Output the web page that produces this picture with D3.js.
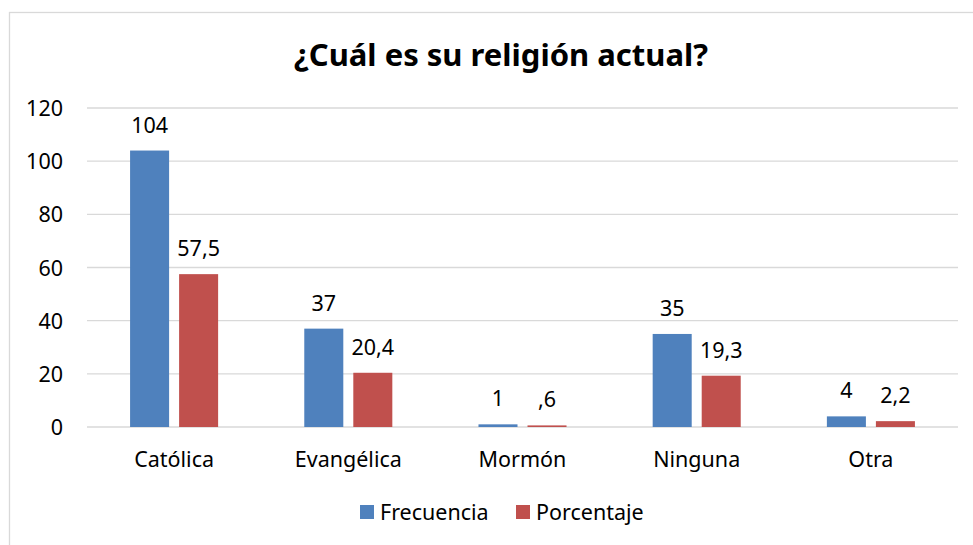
<!DOCTYPE html>
<html>
<head>
<meta charset="utf-8">
<script src="https://cdn.jsdelivr.net/npm/d3@7"></script>
<style>
  body { margin: 0; background: #fff; }
  text { font-family: "Noto Sans", "Open Sans", sans-serif; fill: #000; }
</style>
</head>
<body>
<svg id="chart" width="973" height="545"></svg>
<script>
// data
const categories = ["Católica", "Evangélica", "Mormón", "Ninguna", "Otra"];
const frecuencia = [104, 37, 1, 35, 4];
const porcentaje = [57.5, 20.4, 0.6, 19.3, 2.2];
const seriesNames = ["Frecuencia", "Porcentaje"];
const yTicks = [0, 20, 40, 60, 80, 100, 120];

const colors = ["#4F81BD", "#C0504D"];
const svg = d3.select("#chart");
const fs = "21.5px";

// outer frame (right and bottom edges fall outside the window)
svg.append("rect")
    .attr("x", 9.5).attr("y", 12.5)
    .attr("width", 1000).attr("height", 600)
    .attr("fill", "none").attr("stroke", "#d9d9d9").attr("stroke-width", 1.3);

const margin = {left: 87, right: 15, top: 108, bottom: 118};
const width = 973 - margin.left - margin.right;   // plot width
const height = 545 - margin.top - margin.bottom;  // plot height

const x = d3.scaleBand().domain(categories).range([margin.left, margin.left + width]);
const y = d3.scaleLinear().domain([0, 120]).range([margin.top + height, margin.top]);

const barW = x.bandwidth() * 0.224;
const gap = 10;

// gridlines
svg.append("g").selectAll("line").data(yTicks).enter().append("line")
    .attr("x1", margin.left).attr("x2", margin.left + width)
    .attr("y1", d => y(d)).attr("y2", d => y(d))
    .attr("stroke", "#d9d9d9").attr("stroke-width", 1.3);

// y tick labels
svg.append("g").selectAll("text").data(yTicks).enter().append("text")
    .attr("x", 63).attr("y", d => y(d) + 8)
    .attr("text-anchor", "end")
    .style("font-size", fs)
    .text(d => d);

// bars
const rows = categories.map((c, i) => ({cat: c, vals: [frecuencia[i], porcentaje[i]]}));
const fmt = v => {
    let s = String(v).replace(".", ",");
    if (s.startsWith("0,")) s = s.slice(1);
    return s;
};

const groups = svg.append("g").selectAll("g").data(rows).enter().append("g");
seriesNames.forEach((name, k) => {
    const bx = d => x(d.cat) + x.bandwidth() / 2 + (k === 0 ? -gap / 2 - barW : gap / 2);
    groups.append("rect")
        .attr("x", bx)
        .attr("y", d => y(d.vals[k]))
        .attr("width", barW)
        .attr("height", d => y(0) - y(d.vals[k]))
        .attr("fill", colors[k]);
    groups.append("text")
        .attr("x", d => bx(d) + barW / 2)
        .attr("y", d => y(d.vals[k]) - 18)
        .attr("text-anchor", "middle")
        .style("font-size", fs)
        .text(d => fmt(d.vals[k]));
});

// category labels
svg.append("g").selectAll("text").data(categories).enter().append("text")
    .attr("x", d => x(d) + x.bandwidth() / 2)
    .attr("y", y(0) + 40)
    .attr("text-anchor", "middle")
    .style("font-size", fs)
    .text(d => d);

// title
svg.append("text")
    .attr("x", 501).attr("y", 66)
    .attr("text-anchor", "middle")
    .style("font-size", "31px").style("font-weight", "bold")
    .text("¿Cuál es su religión actual?");

// legend
const legendX = [360, 516];
const legend = svg.append("g").selectAll("g").data(seriesNames).enter().append("g")
    .attr("transform", (d, i) => `translate(${legendX[i]},505)`);
legend.append("rect").attr("width", 14).attr("height", 14).attr("fill", (d, i) => colors[i]);
legend.append("text").attr("x", 20).attr("y", 14.5)
    .style("font-size", fs).text(d => d);
</script>
</body>
</html>
